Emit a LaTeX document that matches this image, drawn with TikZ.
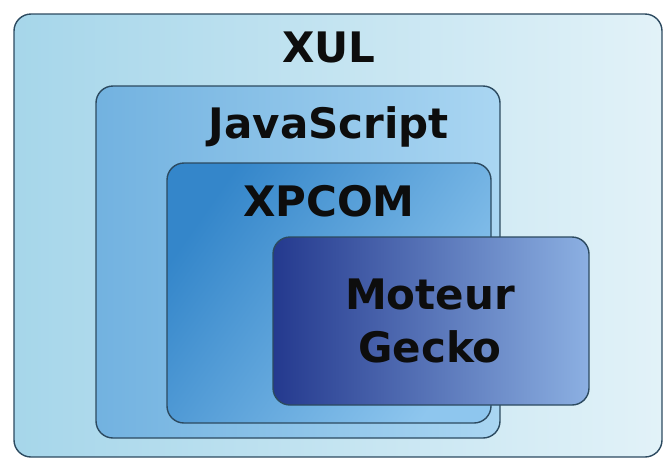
\documentclass[tikz,border=0pt]{standalone}
\usepackage{fontspec}
\setmainfont{DejaVu Sans}
\usepackage{tikz}
\usetikzlibrary{positioning}

\definecolor{edge}{HTML}{2C4A60}
\definecolor{xulL}{HTML}{A6D6EA}
\definecolor{xulR}{HTML}{E2F2F8}
\definecolor{jsL}{HTML}{72B2E0}
\definecolor{jsR}{HTML}{AAD6F2}
\definecolor{xpL}{HTML}{3486CA}
\definecolor{xpR}{HTML}{8EC6EE}
\definecolor{gkL}{HTML}{24398E}
\definecolor{gkR}{HTML}{8CB0E2}

\begin{document}
\begin{tikzpicture}[
  x=1pt, y=-1pt,
  lay/.style={draw=edge, line width=1.4pt, rounded corners=17pt, inner sep=0pt},
  lbl/.style={font=\bfseries\fontsize{42}{53}\selectfont, text=black!95, align=center, inner sep=0pt},
]
\useasboundingbox (0,0) rectangle (664,459);
% layers
\node[lay, left color=xulL, right color=xulR, minimum width=648pt, minimum height=443pt] (xul) at (338,235.5) {};
\node[lay, left color=jsL, right color=jsR, minimum width=404pt, minimum height=352pt] (js) at (298,262) {};
\node[lay, left color=xpL, right color=xpR, shading angle=55, minimum width=324pt, minimum height=260pt] (xpcom) at (329,293) {};
\node[lay, left color=gkL, right color=gkR, minimum width=316pt, minimum height=168pt] (gecko) at (431,321) {};

% labels
\node[lbl] (xult) at (329,47) {XUL};
\node[lbl] (jst) at (329,127) {JavaScript};
\node[lbl] (xpcomt) at (329,201) {XPCOM};
\node[lbl] (geckot) at (430,321) {Moteur\\Gecko};
\end{tikzpicture}
\end{document}
